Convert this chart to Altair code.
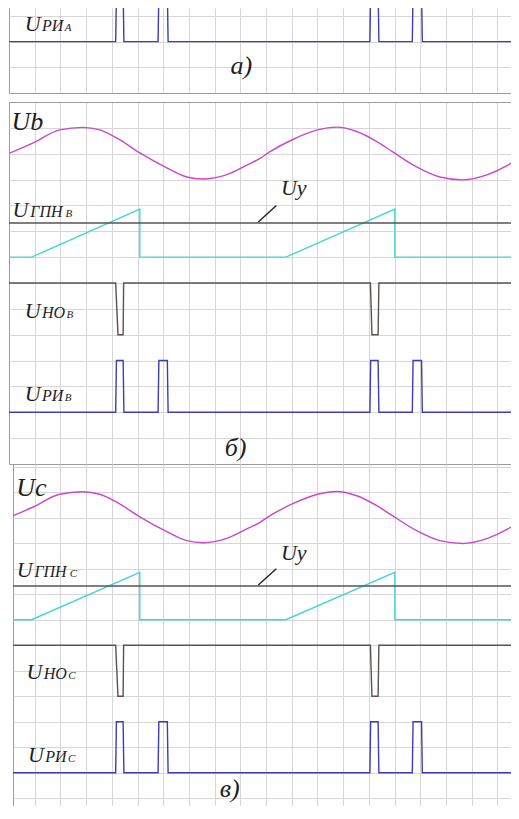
import altair as alt
import pandas as pd

# ---- values (x and y in grid divisions) ----
SINE_X = [0.0, 0.92, 1.97, 2.87, 3.53, 4.19, 5.09, 6.14, 6.91, 7.54, 8.47, 9.25, 9.75,
          10.14, 11.04, 11.97, 12.75, 13.53, 14.31, 14.93, 15.86, 16.76, 17.65, 18.59, 19.37, 19.84]
SINE_Y = [12.01, 12.41, 12.92, 13.02, 12.92, 12.61, 12.03, 11.45, 11.10, 11.02, 11.19, 11.56, 11.81,
          12.07, 12.55, 12.91, 13.03, 12.86, 12.47, 12.07, 11.49, 11.10, 10.99, 11.18, 11.54, 11.84]

RAMP_X = [0.0, 0.88, 5.09, 5.09, 10.77, 15.01, 15.01, 19.84]
RAMP_Y = [8.0, 8.0, 9.86, 8.0, 8.0, 9.86, 8.0, 8.0]

UY_X = [0.0, 19.84]
UY_Y = [9.32, 9.32]

NO_X = [0.0, 4.15, 4.24, 4.44, 4.46, 14.06, 14.12, 14.36, 14.39, 19.84]
NO_Y = [7.0, 7.0, 5.0, 5.0, 7.0, 7.0, 5.0, 5.0, 7.0, 7.0]

RI_X = [0.0, 4.15, 4.18, 4.44, 4.47, 5.80, 5.83, 6.16, 6.19,
        14.04, 14.07, 14.36, 14.39, 15.69, 15.72, 16.05, 16.08, 19.84]
RI_Y = [2.0, 2.0, 4.0, 4.0, 2.0, 2.0, 4.0, 4.0, 2.0,
        2.0, 4.0, 4.0, 2.0, 2.0, 4.0, 4.0, 2.0, 2.0]

LEADER_X = [9.70, 10.40]
LEADER_Y = [9.36, 10.00]

X_TICKS = list(range(1, 20))

# labels: panel, role, x, y, text
LABELS = [
    ("a", "main", 0.61, 2.41, "U"), ("a", "sub", 1.28, 2.41, "РИ"), ("a", "suf", 2.17, 2.41, "A"),
    ("a", "tag", 8.62, 0.74, "а)"),
    ("b", "big", 0.10, 12.92, "Ub"),
    ("b", "main", 0.14, 9.55, "U"), ("b", "sub", 0.83, 9.55, "ГПН"), ("b", "suf", 2.20, 9.55, "B"),
    ("b", "main", 0.61, 5.65, "U"), ("b", "sub", 1.28, 5.65, "НО"), ("b", "suf", 2.24, 5.65, "B"),
    ("b", "main", 0.61, 2.44, "U"), ("b", "sub", 1.28, 2.44, "РИ"), ("b", "suf", 2.17, 2.44, "B"),
    ("b", "main", 10.58, 10.40, "Uy"),
    ("b", "tag", 8.39, 0.32, "б)"),
    ("c", "big", 0.28, 12.86, "Uc"),
    ("c", "main", 0.30, 9.69, "U"), ("c", "sub", 0.99, 9.69, "ГПН"), ("c", "suf", 2.36, 9.69, "C"),
    ("c", "main", 0.68, 5.66, "U"), ("c", "sub", 1.35, 5.66, "НО"), ("c", "suf", 2.31, 5.66, "C"),
    ("c", "main", 0.74, 2.43, "U"), ("c", "sub", 1.41, 2.43, "РИ"), ("c", "suf", 2.30, 2.43, "C"),
    ("c", "main", 10.58, 10.34, "Uy"),
    ("c", "tag", 8.20, 1.05, "в)"),
]

SERIES = ["sine", "ramp", "uy", "no", "ri", "leader"]
COLORS = ["#cc46cc", "#45d6d4", "#555555", "#5e5050", "#3d3db6", "#222222"]

GRID = "#d6d6d6"
BORDER = "#9c9c9c"
FONT = "Liberation Serif"


def sdf(name, xs, ys):
    return pd.DataFrame({"series": name, "x": xs, "y": ys, "i": list(range(len(xs)))})


lines_df = pd.concat([
    sdf("sine", SINE_X, SINE_Y), sdf("ramp", RAMP_X, RAMP_Y), sdf("uy", UY_X, UY_Y),
    sdf("no", NO_X, NO_Y), sdf("ri", RI_X, RI_Y), sdf("leader", LEADER_X, LEADER_Y),
], ignore_index=True)

labels_df = pd.DataFrame(LABELS, columns=["panel", "role", "x", "y", "text"])


def cond_color(borders):
    test = "indexof([" + ",".join(str(b) for b in borders) + "], datum.value) >= 0"
    return {"condition": {"test": test, "value": BORDER}, "value": GRID}


def panel(pid, xdom, xborder, ydom, yticks, yborders, width, height, series):
    xticks = [xborder] + X_TICKS
    xe = alt.X("x:Q", scale=alt.Scale(domain=xdom, nice=False, zero=False),
               axis=alt.Axis(values=xticks, grid=True, labels=False, ticks=False, domain=False,
                             title=None, gridColor=cond_color([xborder]), gridOpacity=1, gridWidth=1))
    ye = alt.Y("y:Q", scale=alt.Scale(domain=ydom, nice=False, zero=False),
               axis=alt.Axis(values=yticks, grid=True, labels=False, ticks=False, domain=False,
                             title=None, gridColor=cond_color(yborders if yborders else [-99]),
                             gridOpacity=1, gridWidth=1))
    col = alt.Color("series:N", scale=alt.Scale(domain=SERIES, range=COLORS), legend=None)

    base = alt.Chart(lines_df)
    straight = [s for s in series if s != "sine"]
    layers = [
        base.transform_filter(alt.FieldOneOfPredicate(field="series", oneOf=straight))
        .mark_line(strokeWidth=1.4, clip=True)
        .encode(x=xe, y=ye, color=col, detail="series:N", order="i:Q")
    ]
    if "sine" in series:
        layers.append(
            base.transform_filter(alt.datum.series == "sine")
            .mark_line(strokeWidth=1.4, clip=True, interpolate="monotone")
            .encode(x=xe, y=ye, color=col, order="i:Q")
        )
    lab = alt.Chart(labels_df).transform_filter(alt.datum.panel == pid)
    styles = {"main": 22, "big": 26, "sub": 16, "suf": 11, "tag": 26}
    for role, size in styles.items():
        layers.append(
            lab.transform_filter(alt.datum.role == role)
            .mark_text(font=FONT, fontStyle="italic", fontSize=size, align="left",
                       baseline="alphabetic", color="#1e1e1e", clip=True)
            .encode(x=xe, y=ye, text="text:N")
        )
    return alt.layer(*layers).properties(width=width, height=height)


XMAX = 19.53
pa = panel("a", [0, XMAX], 0, [0, 3.31], [0, 1, 2, 3], [0], 502, 85, ["ri"])
pb = panel("b", [0, XMAX], 0, [0, 14], list(range(0, 15)), [0, 14], 502, 362,
           ["sine", "ramp", "uy", "no", "ri", "leader"])
pc = panel("c", [0.156, XMAX], 0.156, [0.694, 14.106], list(range(1, 15)), [], 498, 342,
           ["sine", "ramp", "uy", "no", "ri", "leader"])

spacer = alt.Chart(pd.DataFrame({"t": [""]})).mark_text().encode(text="t:N").properties(width=4, height=342)

chart = alt.vconcat(
    pa,
    alt.vconcat(pb, alt.hconcat(spacer, pc, spacing=0), spacing=0),
    spacing=9,
).properties(
    padding={"left": 1, "top": 0, "right": 0, "bottom": 0},
    autosize=alt.AutoSizeParams(type="pad"),
    background="white",
).configure_view(strokeWidth=0)

chart.save("out.html", embed_options={"renderer": "svg", "actions": False})
